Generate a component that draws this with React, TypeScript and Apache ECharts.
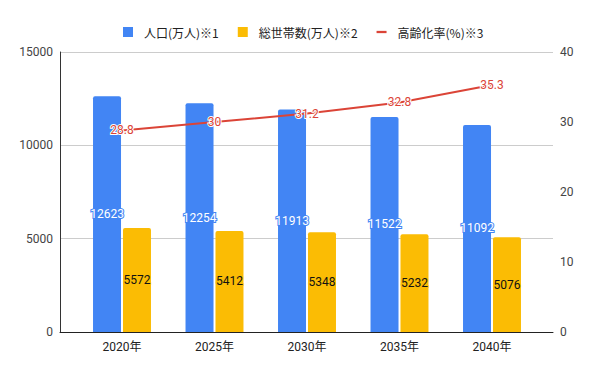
import React, { useEffect, useRef } from "react";
import * as echarts from "echarts";

const categories = ["2020年", "2025年", "2030年", "2035年", "2040年"];
const population = [12623, 12254, 11913, 11522, 11092];
const households = [5572, 5412, 5348, 5232, 5076];
const agingRate = [28.8, 30, 31.2, 32.8, 35.3];
const leftTicks = { min: 0, max: 15000, interval: 5000 };
const rightTicks = { min: 0, max: 40, interval: 10 };

const FONT = "Roboto, 'Noto Sans CJK JP', sans-serif";
const BLUE = "#4285f4";
const YELLOW = "#fbbc04";
const RED = "#db4437";

export default function App() {
  const ref = useRef<HTMLDivElement>(null);
  useEffect(() => {
    document.body.style.margin = "0";
    const chart = echarts.init(ref.current!, null, { renderer: "svg" });
    const gridPos = { top: 52, bottom: 39 };
    const plain = (v: number) => String(v);
    chart.setOption({
      animation: false,
      backgroundColor: "#ffffff",
      textStyle: { fontFamily: FONT },
      legend: {
        left: 118,
        top: 21,
        itemWidth: 10,
        itemHeight: 10,
        itemGap: 19,
        textStyle: {
          fontSize: 12,
          color: "#222",
          fontFamily: "'Noto Sans CJK JP', Roboto, sans-serif",
          padding: [0, 0, 0, 6],
        },
        data: [
          { name: "人口(万人)※1", icon: "rect" },
          { name: "総世帯数(万人)※2", icon: "rect" },
          { name: "高齢化率(%)※3", icon: "path://M0,4h11v2.5h-11z" },
        ],
      },
      grid: [
        { left: 60, right: 47, ...gridPos },
        { left: 75.75, right: 61.75, ...gridPos },
      ],
      xAxis: [
        {
          type: "category",
          gridIndex: 0,
          data: [""],
          axisLine: { show: true, lineStyle: { color: "#222", width: 1 } },
          axisTick: { show: false },
          axisLabel: { show: false },
        },
        {
          type: "category",
          gridIndex: 1,
          data: categories,
          axisLine: { show: false },
          axisTick: { show: false },
          axisLabel: { color: "#222", fontSize: 12, margin: 9, fontFamily: FONT },
        },
      ],
      yAxis: [
        {
          type: "value",
          gridIndex: 0,
          ...leftTicks,
          position: "left",
          axisLine: { show: true, lineStyle: { color: "#333" } },
          axisTick: { show: false },
          splitLine: { lineStyle: { color: "#cccccc" } },
          axisLabel: { color: "#444", fontSize: 12, margin: 7, fontFamily: FONT, formatter: plain },
        },
        {
          type: "value",
          gridIndex: 0,
          ...rightTicks,
          position: "right",
          axisLine: { show: false },
          axisTick: { show: false },
          splitLine: { show: false },
          axisLabel: { color: "#444", fontSize: 12, margin: 7, fontFamily: FONT, formatter: plain },
        },
        {
          type: "value",
          gridIndex: 1,
          ...leftTicks,
          show: false,
        },
        {
          type: "value",
          gridIndex: 1,
          ...rightTicks,
          show: false,
        },
      ],
      series: [
        {
          name: "人口(万人)※1",
          type: "bar",
          xAxisIndex: 1,
          yAxisIndex: 2,
          data: population,
          barWidth: 28,
          barGap: "7%",
          itemStyle: { color: BLUE, borderRadius: [2, 2, 0, 0] },
          label: {
            show: true,
            position: "inside",
            color: "#ffffff",
            fontSize: 12,
            fontFamily: FONT,
            textBorderColor: BLUE,
            textBorderWidth: 2,
          },
          z: 2,
        },
        {
          name: "総世帯数(万人)※2",
          type: "bar",
          xAxisIndex: 1,
          yAxisIndex: 2,
          data: households,
          barWidth: 28,
          barGap: "7%",
          itemStyle: { color: YELLOW, borderRadius: [2, 2, 0, 0] },
          label: {
            show: true,
            position: "inside",
            color: "#111111",
            fontSize: 12,
            fontFamily: FONT,
            textBorderColor: YELLOW,
            textBorderWidth: 2,
          },
          z: 2,
        },
        {
          name: "高齢化率(%)※3",
          type: "line",
          xAxisIndex: 1,
          yAxisIndex: 3,
          data: agingRate,
          symbol: "circle",
          symbolSize: 1,
          showSymbol: true,
          lineStyle: { color: RED, width: 2 },
          itemStyle: { color: RED },
          label: {
            show: true,
            position: "inside",
            color: RED,
            fontSize: 12,
            fontFamily: FONT,
            textBorderColor: "#ffffff",
            textBorderWidth: 2,
          },
          z: 5,
        },
      ],
    });
    return () => chart.dispose();
  }, []);
  return <div ref={ref} style={{ width: 600, height: 371 }} />;
}
